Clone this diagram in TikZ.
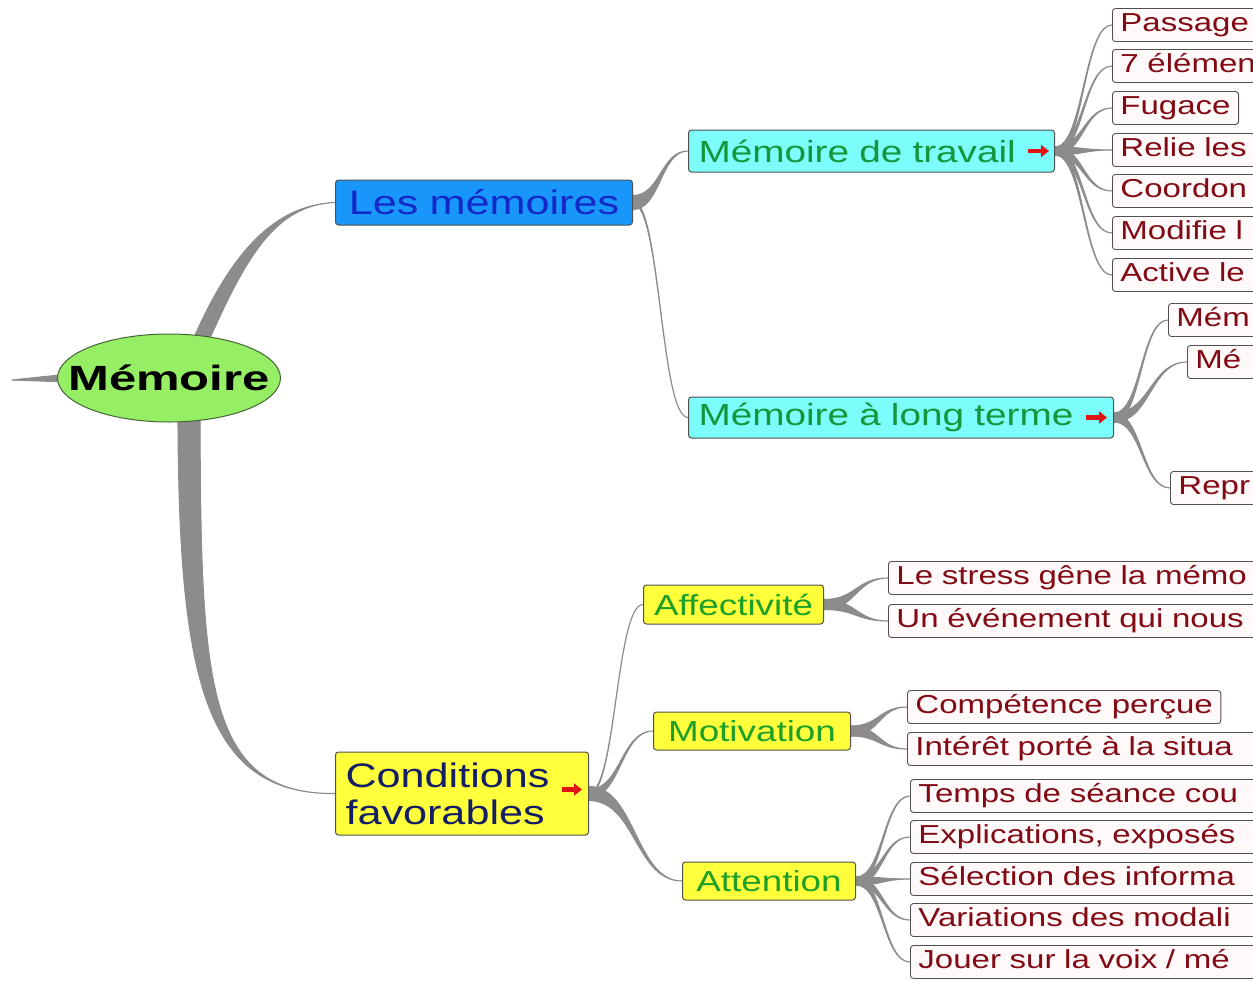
\documentclass[tikz,border=0pt]{standalone}
\usepackage{fontspec}
\setmainfont[FakeStretch=1.27]{Liberation Sans}
\newfontfamily\rootfont[FakeStretch=1.4]{Liberation Sans}
\usetikzlibrary{calc,arrows.meta,shapes.geometric}
\pgfdeclarelayer{background}
\pgfsetlayers{background,main}

\definecolor{twigcol}{RGB}{140,140,140}
\definecolor{rootfill}{RGB}{150,238,100}
\definecolor{rootline}{RGB}{70,100,55}
\definecolor{bluefill}{RGB}{25,150,250}
\definecolor{bluetext}{RGB}{20,40,200}
\definecolor{cyanfill}{RGB}{125,252,252}
\definecolor{greentext}{RGB}{20,150,60}
\definecolor{yellowfill}{RGB}{255,255,60}
\definecolor{navytext}{RGB}{20,30,100}
\definecolor{condtext}{RGB}{30,160,40}
\definecolor{leaffill}{RGB}{255,249,249}
\definecolor{leaftext}{RGB}{130,10,20}
\definecolor{boxline}{RGB}{80,80,80}
\definecolor{iconred}{RGB}{225,20,20}

\newcommand\fsTop{\fontsize{34}{37}\selectfont}
\newcommand\fsMid{\fontsize{30.5}{34}\selectfont}
\newcommand\fsCond{\fontsize{29}{32}\selectfont}
\newcommand\fsLeaf{\fontsize{26}{28}\selectfont}

% tapered S-shaped twig from a parent point to a child point
\newcommand\twig[3]{%
  \path[twigfill] let \p1=#1, \p2=#2, \p3=($#1!0.5!#2$) in
    (\x1,\y1+#3) .. controls (\x3,\y1+#3) and (\x3,\y2) .. (\x2,\y2)
    .. controls (\x3,\y2) and (\x3,\y1-#3) .. (\x1,\y1-#3) -- cycle;}
% tapered twig with explicit control points and a thickness offset
\newcommand\taper[5]{%
  \path[twigfill] ($#1+#5$) .. controls ($#2+#5$) and #3 .. #4
    .. controls #3 and ($#2-#5$) .. ($#1-#5$) -- cycle;}

\tikzset{
  twigfill/.style={fill=twigcol, draw=twigcol, line width=1.1pt, line join=round},
  box/.style={draw=boxline, line width=1pt, rounded corners=3pt, anchor=west,
    inner xsep=10pt, inner ysep=0pt, align=center},
  leaf/.style={draw=boxline, line width=0.9pt, rounded corners=3pt, fill=leaffill,
    text=leaftext, font=\fsLeaf, anchor=west, inner xsep=8pt, inner ysep=0pt,
    minimum height=33pt, align=left, text height=19pt, text depth=6pt},
  leafcut/.style={leaf, text width=600pt},
  icon/.style={iconred, line width=4.5pt, -{Triangle[length=8pt,width=12pt]}},
}

\begin{document}
\begin{tikzpicture}[x=1pt,y=-1pt]
\useasboundingbox (0,0) rectangle (1253,980);
\clip (0,0) rectangle (1253,980);

% central topic
\node[ellipse, draw=rootline, line width=1pt, fill=rootfill, minimum width=223pt,
  minimum height=88pt, inner sep=0pt, font=\rootfont\bfseries\fontsize{35}{38}\selectfont]
  (root) at (169,378) {\makebox[0pt][c]{Mémoire}};
\coordinate (tail) at (12,380);
\coordinate (roottop) at ($(root.center)+(32,-38)$);
\coordinate (rootfoot) at ($(root.south)+(20,-3)$);

% main branches
\node[box, fill=bluefill, text=bluetext, font=\fsTop, minimum height=45pt, text width=277pt]
  (lm) at (335,202.5) {Les mémoires};
\node[box, fill=yellowfill, text=navytext, font=\fsTop, minimum height=83pt, text width=233pt,
  align=left] (cf) at (335,793.5) {Conditions\\favorables};

% second level
\node[box, fill=cyanfill, text=greentext, font=\fsMid, minimum height=42pt, text width=346pt,
  align=left] (mdt) at (688,151) {Mémoire de travail};
\node[box, fill=cyanfill, text=greentext, font=\fsMid, minimum height=41pt, text width=405pt,
  align=left] (mlt) at (688,417.5) {Mémoire à long terme};
\node[box, fill=yellowfill, text=condtext, font=\fsCond, minimum height=39pt, text width=160pt]
  (aff) at (643,604.5) {Affectivité};
\node[box, fill=yellowfill, text=condtext, font=\fsCond, minimum height=38pt, text width=177pt]
  (mot) at (653,731) {Motivation};
\node[box, fill=yellowfill, text=condtext, font=\fsCond, minimum height=38pt, text width=153pt]
  (att) at (682,881) {Attention};

% link icons
\draw[icon] ($(mdt.east)+(-27,0)$) -- ($(mdt.east)+(-6,0)$);
\draw[icon] ($(mlt.east)+(-28,0)$) -- ($(mlt.east)+(-7,0)$);
\draw[icon] ($(cf.east)+(-27,-4)$) -- ($(cf.east)+(-7,-4)$);

% leaves of the working memory
\node[leafcut] (t1) at (1112,25) {Passage};
\node[leafcut] (t2) at (1112,66) {7 élémen};
\node[leaf]    (t3) at (1112,108) {Fugace};
\node[leafcut] (t4) at (1112,150) {Relie les};
\node[leafcut] (t5) at (1112,191) {Coordon};
\node[leafcut] (t6) at (1112,233) {Modifie l};
\node[leafcut] (t7) at (1112,275) {Active le};

% leaves of the long-term memory
\node[leafcut] (l1) at (1168,320) {Mém};
\node[leafcut] (l2) at (1187,362) {Mé};
\node[leafcut] (l3) at (1170,488) {Repr};

% leaves of the conditions
\node[leafcut] (a1) at (888,578) {Le stress gêne la mémo};
\node[leafcut] (a2) at (888,621) {Un événement qui nous};
\node[leaf]    (m1) at (907,707) {Compétence perçue};
\node[leafcut] (m2) at (907,749) {Intérêt porté à la situa};
\node[leafcut] (n1) at (910,796) {Temps de séance cou};
\node[leafcut] (n2) at (910,837) {Explications, exposés};
\node[leafcut] (n3) at (910,879) {Sélection des informa};
\node[leafcut] (n4) at (910,920) {Variations des modali};
\node[leafcut] (n5) at (910,962) {Jouer sur la voix / mé};

\begin{pgfonlayer}{background}
  % stub and main branches of the central topic
  \path[twigfill] ($(root.west)+(12,-4)$) -- (tail) -- ($(root.west)+(12,4)$) -- cycle;
  \taper{(roottop)}{(240,252)}{(276,205)}{(lm.west)}{(7,2.6)}
  \taper{(rootfoot)}{(190,680)}{(205,795)}{(cf.west)}{(11,0)}
  % memories
  \twig{(lm.east)}{(mdt.west)}{7pt}
  \twig{(lm.east)}{(mlt.west)}{1.5pt}
  \foreach \k in {t1,t2,t3,t4,t5,t6,t7} {\twig{(mdt.east)}{(\k.west)}{4pt}}
  \foreach \k in {l1,l2,l3} {\twig{(mlt.east)}{(\k.west)}{4.5pt}}
  % conditions
  \twig{(cf.east)}{(aff.west)}{1pt}
  \twig{(cf.east)}{(mot.west)}{4pt}
  \twig{(cf.east)}{(att.west)}{7pt}
  \foreach \k in {a1,a2} {\twig{(aff.east)}{(\k.west)}{5pt}}
  \foreach \k in {m1,m2} {\twig{(mot.east)}{(\k.west)}{5pt}}
  \foreach \k in {n1,n2,n3,n4,n5} {\twig{(att.east)}{(\k.west)}{4pt}}
\end{pgfonlayer}
\end{tikzpicture}
\end{document}
